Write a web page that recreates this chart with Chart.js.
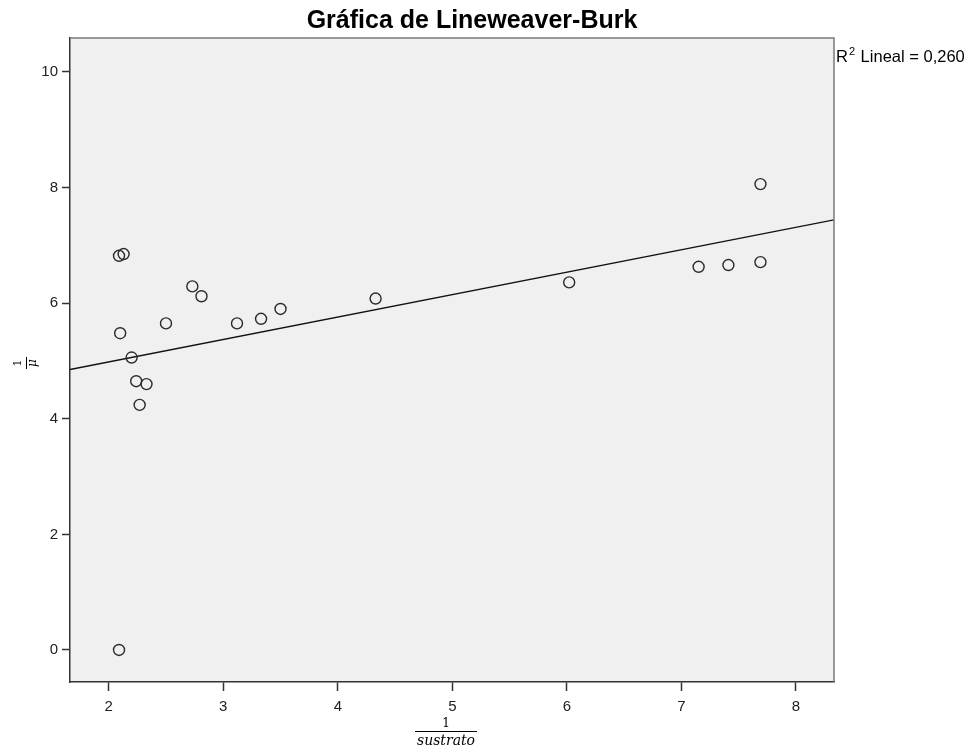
<!DOCTYPE html>
<html>
<head>
<meta charset="utf-8">
<title>Lineweaver-Burk</title>
<script src="https://cdn.jsdelivr.net/npm/chart.js@4/dist/chart.umd.min.js"></script>
<style>
  html, body { margin: 0; padding: 0; background: #fff; }
  #wrap { width: 970px; height: 755px; position: relative; }
</style>
</head>
<body>
<div id="wrap"><canvas id="lb"></canvas></div>
<script>
// 1/sustrato and 1/mu for each run
var invS  = [2.09, 2.09, 2.13, 2.10, 2.20, 2.24, 2.33, 2.27, 2.50, 2.73, 2.81, 3.12, 3.33, 3.50, 4.33, 6.02, 7.15, 7.41, 7.69, 7.69];
var invMu = [0.00, 6.82, 6.85, 5.48, 5.06, 4.65, 4.60, 4.24, 5.65, 6.29, 6.12, 5.65, 5.73, 5.90, 6.08, 6.36, 6.63, 6.66, 6.71, 8.06];

var xTicks = [2, 3, 4, 5, 6, 7, 8];
var yTicks = [0, 2, 4, 6, 8, 10];

var xMin = 1.662, xMax = 8.332;
var yMin = -0.554, yMax = 10.588;

// least squares fit
var n = invS.length;
var mx = invS.reduce(function (a, b) { return a + b; }, 0) / n;
var my = invMu.reduce(function (a, b) { return a + b; }, 0) / n;
var sxx = 0, sxy = 0, syy = 0;
for (var i = 0; i < n; i++) {
    sxx += (invS[i] - mx) * (invS[i] - mx);
    sxy += (invS[i] - mx) * (invMu[i] - my);
    syy += (invMu[i] - my) * (invMu[i] - my);
}
var slope = sxy / sxx;
var icpt = my - slope * mx;
var r2 = (sxy * sxy) / (sxx * syy);

var points = invS.map(function (x, i) { return { x: x, y: invMu[i] }; });
var fitLine = [
    { x: xMin, y: icpt + slope * xMin },
    { x: xMax, y: icpt + slope * xMax }
];

var tickFont = { family: 'Liberation Sans, Arial, sans-serif', size: 15 };

var frame = {
    id: 'frame',
    beforeDraw: function (chart) {
        var c = chart.ctx, a = chart.chartArea;
        c.save();
        c.fillStyle = '#f0f0f0';
        c.fillRect(a.left, a.top, a.right - a.left, a.bottom - a.top);
        c.restore();
    },
    afterDraw: function (chart) {
        var c = chart.ctx, a = chart.chartArea;
        c.save();
        // top and right edges of the plot box
        c.strokeStyle = '#7a7a7a';
        c.lineWidth = 1.5;
        c.beginPath();
        c.moveTo(a.left, a.top);
        c.lineTo(a.right, a.top);
        c.lineTo(a.right, a.bottom);
        c.stroke();

        c.fillStyle = '#000';
        c.textAlign = 'center';
        c.textBaseline = 'alphabetic';
        c.font = 'bold 25px "Liberation Sans", Arial, sans-serif';
        c.fillText('Gráfica de Lineweaver-Burk', 472, 28);

        // R squared label
        c.textAlign = 'left';
        c.font = '16.5px "Liberation Sans", Arial, sans-serif';
        c.fillText('R', 836, 62);
        var rw = c.measureText('R').width;
        c.font = '11px "Liberation Sans", Arial, sans-serif';
        c.fillText('2', 836 + rw + 1, 55);
        var sw = c.measureText('2').width;
        c.font = '16.5px "Liberation Sans", Arial, sans-serif';
        c.fillText(' Lineal = ' + r2.toFixed(3).replace('.', ','), 836 + rw + sw + 2, 62);

        // x axis title: 1 / sustrato
        c.textAlign = 'center';
        c.font = '12px "DejaVu Serif", serif';
        c.fillText('1', 446, 727);
        c.font = 'italic 14px "DejaVu Serif", serif';
        c.fillText('sustrato', 446, 745);
        c.lineWidth = 1;
        c.strokeStyle = '#000';
        c.beginPath();
        c.moveTo(415, 731.5);
        c.lineTo(477, 731.5);
        c.stroke();

        // y axis title: 1 / mu
        c.translate(27, 363);
        c.rotate(-Math.PI / 2);
        c.font = '11px "DejaVu Serif", serif';
        c.fillText('1', 0, -6);
        c.beginPath();
        c.moveTo(-6, -0.5);
        c.lineTo(6, -0.5);
        c.stroke();
        c.font = 'italic 12px "DejaVu Serif", serif';
        c.fillText('\u03BC', 0, 9);
        c.restore();
    }
};

new Chart(document.getElementById('lb'), {
    type: 'scatter',
    data: {
        datasets: [{
            data: points,
            showLine: false,
            pointStyle: 'circle',
            pointRadius: 5.5,
            pointHoverRadius: 5.5,
            pointBorderWidth: 1.4,
            pointBorderColor: '#2a2a2a',
            pointBackgroundColor: 'rgba(0,0,0,0)'
        }, {
            type: 'line',
            data: fitLine,
            borderColor: '#111',
            borderWidth: 1.3,
            pointRadius: 0,
            fill: false
        }]
    },
    options: {
        responsive: true,
        maintainAspectRatio: false,
        animation: false,
        events: [],
        layout: { padding: { top: 38, right: 136, left: 0, bottom: 0 } },
        plugins: {
            legend: { display: false },
            title: { display: false },
            tooltip: { enabled: false }
        },
        scales: {
            x: {
                type: 'linear',
                min: xMin,
                max: xMax,
                afterBuildTicks: function (s) { s.ticks = xTicks.map(function (v) { return { value: v }; }); },
                afterFit: function (s) { s.height = 73; },
                grid: { drawOnChartArea: false, drawTicks: true, tickLength: 9, tickColor: '#333', tickWidth: 1.5 },
                border: { display: true, color: '#333', width: 1.5 },
                ticks: { color: '#222', font: tickFont, padding: 7, maxRotation: 0 }
            },
            y: {
                type: 'linear',
                min: yMin,
                max: yMax,
                afterBuildTicks: function (s) { s.ticks = yTicks.map(function (v) { return { value: v }; }); },
                afterFit: function (s) { s.width = 70; },
                grid: { drawOnChartArea: false, drawTicks: true, tickLength: 8, tickColor: '#333', tickWidth: 1.5 },
                border: { display: true, color: '#333', width: 1.5 },
                ticks: { color: '#222', font: tickFont, padding: 4 }
            }
        }
    },
    plugins: [frame]
});
</script>
</body>
</html>
